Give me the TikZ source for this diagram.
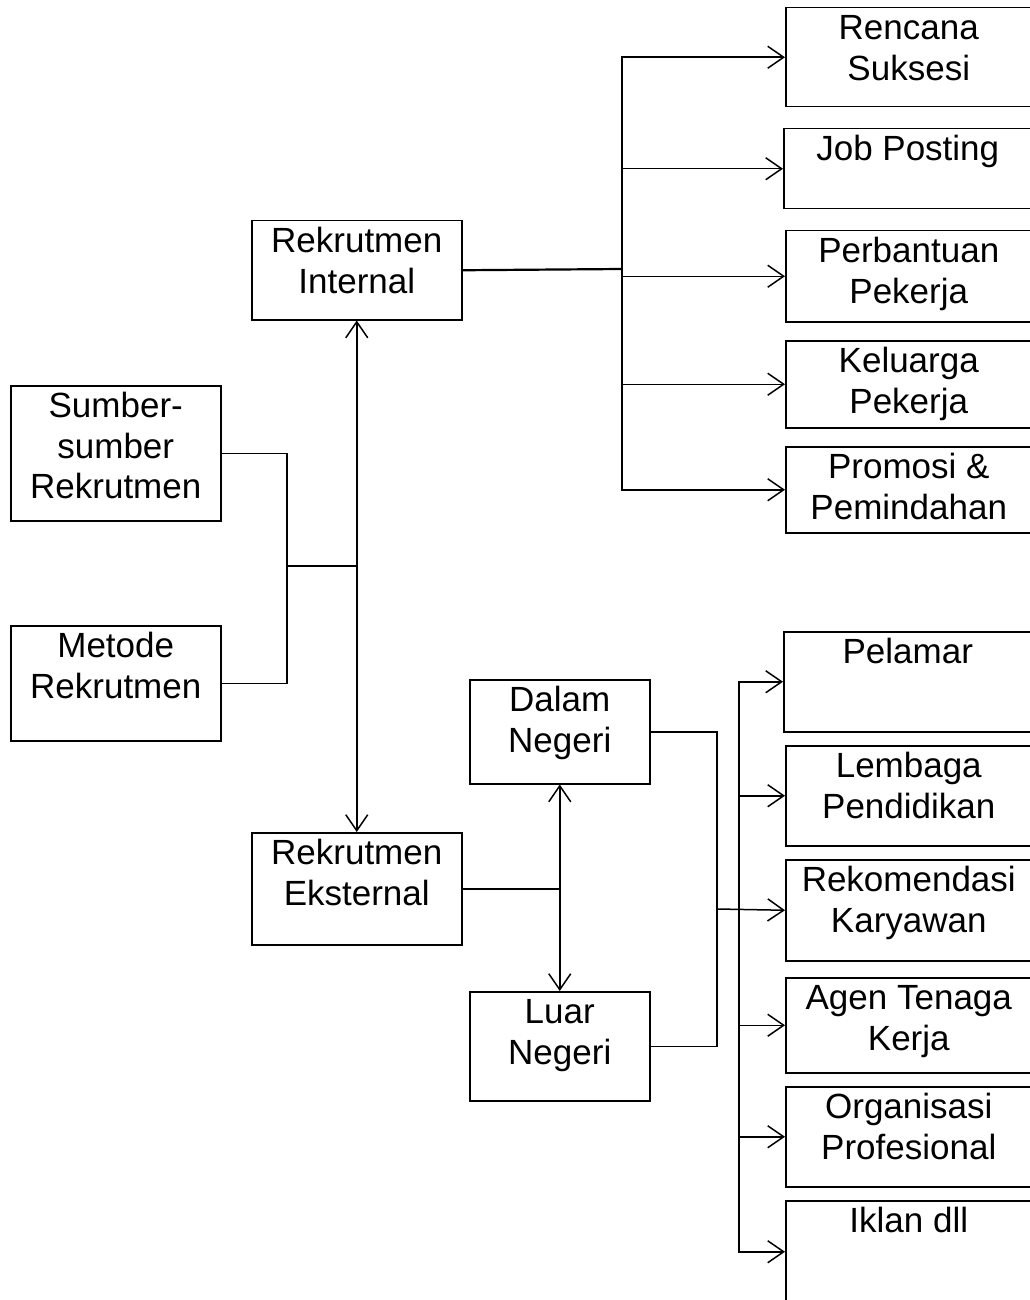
\documentclass[tikz,border=0pt]{standalone}
\usepackage{fontspec}
\setmainfont{Liberation Sans}
\usetikzlibrary{arrows.meta}
\newcommand{\btext}[3]{\parbox[c][#2][t]{#1}{\centering\rule{0pt}{32bp}#3}}
\tikzset{
  box/.style={draw, line width=1.5bp, anchor=north west, inner sep=0pt,
              font=\fontsize{35bp}{40.5bp}\selectfont},
  conn/.style={line width=1.5bp},
  arr/.style={conn, -{Straight Barb[length=16bp, width=22bp, line width=1.5bp]}},
  twoway/.style={conn, {Straight Barb[length=16bp, width=22bp, line width=1.5bp]}-{Straight Barb[length=16bp, width=22bp, line width=1.5bp]}},
}
\begin{document}
\begin{tikzpicture}[x=1bp, y=-1bp]
    \useasboundingbox (0,0) rectangle (1029,1300);
    % left
    \node[box] (sr) at (10,385) {\btext{210bp}{135bp}{Sumber-\\sumber\\Rekrutmen}};
    \node[box] (mr) at (10,625) {\btext{210bp}{115bp}{Metode\\Rekrutmen}};
    \node[box] (ri) at (251,220) {\btext{210bp}{99bp}{Rekrutmen\\Internal}};
    \node[box] (re) at (251,832) {\btext{210bp}{112bp}{Rekrutmen\\Eksternal}};
    \node[box] (dn) at (469,679) {\btext{180bp}{104bp}{Dalam\\Negeri}};
    \node[box] (ln) at (469,991) {\btext{180bp}{109bp}{Luar\\Negeri}};
    % internal sources
    \node[box] (rs) at (785,7) {\btext{246bp}{99bp}{Rencana\\Suksesi}};
    \node[box] (jp) at (783,128) {\btext{248bp}{80bp}{Job Posting}};
    \node[box] (pb) at (785,230) {\btext{246bp}{91bp}{Perbantuan\\Pekerja}};
    \node[box] (kp) at (785,340) {\btext{246bp}{87bp}{Keluarga\\Pekerja}};
    \node[box] (pp) at (785,446) {\btext{246bp}{86bp}{Promosi \&\\Pemindahan}};
    % external sources
    \node[box] (pl) at (783,631) {\btext{248bp}{100bp}{Pelamar}};
    \node[box] (lp) at (785,745) {\btext{246bp}{100bp}{Lembaga\\Pendidikan}};
    \node[box] (rk) at (785,859) {\btext{246bp}{101bp}{Rekomendasi\\Karyawan}};
    \node[box] (at) at (785,977) {\btext{246bp}{95bp}{Agen Tenaga\\Kerja}};
    \node[box] (op) at (785,1086) {\btext{246bp}{100bp}{Organisasi\\Profesional}};
    \node[box] (ik) at (785,1200) {\btext{246bp}{102bp}{Iklan dll}};

    \coordinate (lj) at (287,566);
    \coordinate (it) at (622,269);
    \coordinate (rj) at (717,909);
    \coordinate (et) at (739,909);

    \draw[conn] (sr.east) -| (lj) |- (mr.east);
    \draw[conn] (lj) -- (lj -| ri.south);
    \draw[twoway] (ri.south) -- (re.north);

    \draw[conn, line width=2.2bp] (ri.east) -- (it);
    \foreach \n in {rs, jp, pb, kp, pp}
      \draw[arr] (it) |- (\n.west);

    \draw[conn] (re.east) -- (re.east -| dn.south);
    \draw[twoway] (dn.south) -- (ln.north);
    \draw[conn] (dn.east) -| (rj) |- (ln.east);
    \draw[arr] (rj) -- (rk.west);
    \foreach \n in {pl, lp, at, op, ik}
      \draw[arr] (et) |- (\n.west);
\end{tikzpicture}
\end{document}
